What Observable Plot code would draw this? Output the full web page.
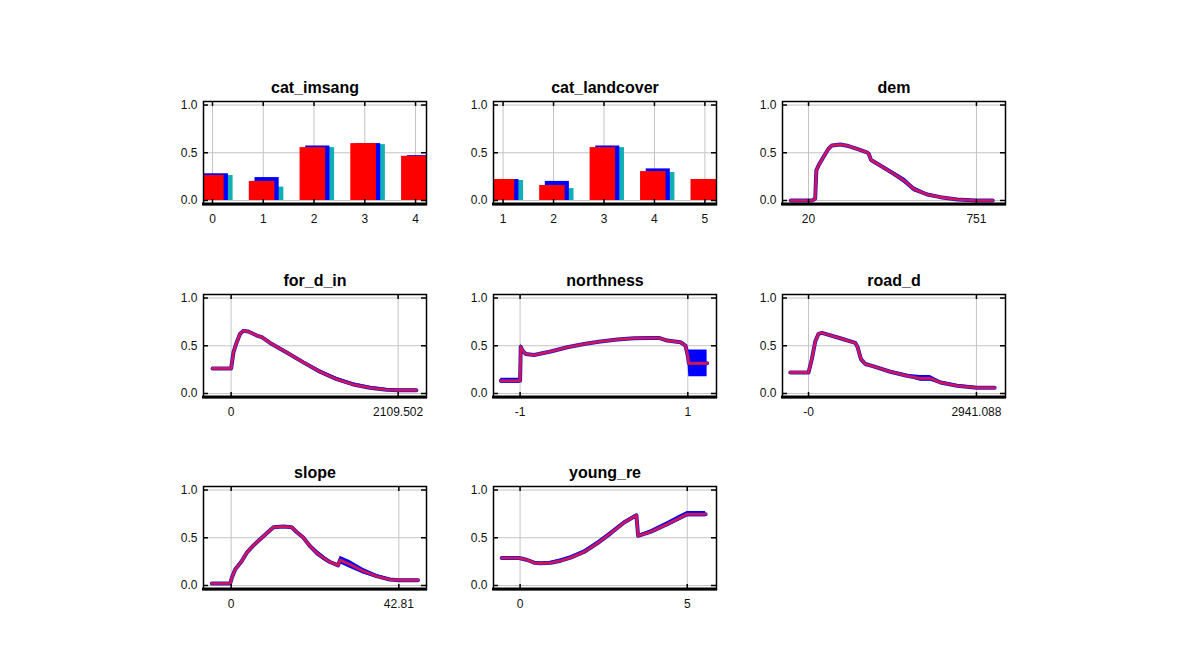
<!DOCTYPE html>
<html><head><meta charset="utf-8">
<script src="https://cdn.jsdelivr.net/npm/d3@7"></script>
<script src="https://cdn.jsdelivr.net/npm/@observablehq/plot@0.6"></script>
<style>
body{margin:0;background:#fff;}
#root{position:relative;width:1190px;height:652px;overflow:hidden;background:#fff;}
#root svg{position:absolute;background:transparent;}
</style></head><body><div id="root"></div>
<script>
// ---------- data ----------
const yTicks = [0, 0.5, 1];
const yTickLabels = ["0.0", "0.5", "1.0"];

// cat_imsang
const imsangCats = [0, 1, 2, 3, 4];
const imsangMean = [0.262, 0.20, 0.554, 0.596, 0.463];
const imsangPlus = [0.28, 0.24, 0.571, 0.596, 0.47];
const imsangMinus = [0.262, 0.14, 0.554, 0.585, 0.45];

// cat_landcover
const landCats = [1, 2, 3, 4, 5];
const landMean = [0.22, 0.157, 0.554, 0.303, 0.22];
const landPlus = [0.22, 0.20, 0.571, 0.331, 0.22];
const landMinus = [0.21, 0.125, 0.554, 0.293, 0.21];

// dem
const demX = [-57, 20, 35, 49, 54, 64, 85, 107, 122, 158, 194, 231, 274, 282, 292, 332, 391, 441, 478, 536, 594, 667, 751, 822];
const demY = [0, 0, 0, 0.018, 0.315, 0.368, 0.455, 0.542, 0.577, 0.587, 0.57, 0.54, 0.505, 0.49, 0.425, 0.366, 0.28, 0.2, 0.12, 0.063, 0.035, 0.01, 0, 0];
const demSd = [0.004, 0.004, 0.004, 0.01, 0.02, 0.02, 0.015, 0.01, 0.005, 0.005, 0.005, 0.005, 0.005, 0.01, 0.015, 0.015, 0.02, 0.03, 0.025, 0.015, 0.01, 0.005, 0.004, 0.004];
const demTicks = [20, 751];
const demLabels = ["20", "751"];

// for_d_in
const forX = [-235, 0, 29, 71, 113, 155, 218, 324, 387, 492, 702, 912, 1122, 1332, 1542, 1752, 1962, 2109, 2340];
const forY = [0.263, 0.263, 0.43, 0.537, 0.625, 0.656, 0.649, 0.607, 0.59, 0.53, 0.43, 0.326, 0.228, 0.15, 0.095, 0.06, 0.039, 0.035, 0.035];
const forSd = [0.004, 0.004, 0.02, 0.015, 0.01, 0.008, 0.008, 0.01, 0.01, 0.012, 0.015, 0.018, 0.02, 0.02, 0.018, 0.015, 0.012, 0.012, 0.012];
const forTicks = [0, 2109.502];
const forLabels = ["0", "2109.502"];

// northness
const northX = [-1.23, -1.0, -0.992, -0.972, -0.933, -0.833, -0.635, -0.437, -0.238, -0.04, 0.159, 0.357, 0.556, 0.655, 0.754, 0.913, 0.972, 1.0, 1.012, 1.23];
const northY = [0.133, 0.133, 0.49, 0.45, 0.414, 0.404, 0.44, 0.484, 0.519, 0.544, 0.565, 0.579, 0.582, 0.582, 0.554, 0.537, 0.502, 0.396, 0.316, 0.316];
const northSd = [0.026, 0.026, 0.03, 0.015, 0.01, 0.008, 0.008, 0.008, 0.008, 0.008, 0.008, 0.008, 0.008, 0.008, 0.008, 0.01, 0.015, 0.05, 0.14, 0.14];
const northTicks = [-1, 1];
const northLabels = ["-1", "1"];

// road_d
const roadX = [-320, 0, 58, 117, 175, 234, 555, 819, 860, 918, 994, 1140, 1432, 1725, 1959, 2134, 2310, 2602, 2941, 3260];
const roadY = [0.221, 0.221, 0.36, 0.544, 0.625, 0.635, 0.579, 0.53, 0.484, 0.36, 0.309, 0.284, 0.228, 0.186, 0.158, 0.158, 0.116, 0.081, 0.06, 0.06];
const roadSd = [0.004, 0.004, 0.02, 0.015, 0.008, 0.008, 0.008, 0.01, 0.04, 0.03, 0.015, 0.01, 0.012, 0.015, 0.03, 0.03, 0.015, 0.012, 0.012, 0.012];
const roadTicks = [0, 2941.088];
const roadLabels = ["-0", "2941.088"];

// slope
const slopeX = [-4.93, -0.25, 0.17, 1.02, 2.72, 4.0, 5.7, 7.39, 9.09, 10.8, 13.3, 15.46, 16.7, 18.4, 20.1, 21.8, 23.5, 25.2, 27.3, 27.8, 30.3, 33.7, 37.1, 40.5, 42.81, 47.7];
const slopeY = [0.021, 0.021, 0.08, 0.168, 0.256, 0.344, 0.42, 0.484, 0.547, 0.61, 0.618, 0.61, 0.561, 0.502, 0.414, 0.344, 0.291, 0.246, 0.21, 0.267, 0.221, 0.151, 0.098, 0.063, 0.056, 0.056];
const slopeSd = [0.006, 0.006, 0.01, 0.012, 0.012, 0.01, 0.008, 0.008, 0.008, 0.008, 0.008, 0.008, 0.01, 0.015, 0.02, 0.03, 0.025, 0.015, 0.012, 0.04, 0.04, 0.03, 0.02, 0.012, 0.01, 0.01];
const slopeTicks = [0, 42.81];
const slopeLabels = ["0", "42.81"];

// young_re
const youngX = [-0.55, -0.03, 0.22, 0.42, 0.62, 0.92, 1.22, 1.51, 1.91, 2.31, 2.71, 3.11, 3.48, 3.53, 3.9, 4.4, 4.8, 5.0, 5.55];
const youngY = [0.288, 0.288, 0.267, 0.239, 0.232, 0.239, 0.26, 0.291, 0.351, 0.442, 0.547, 0.66, 0.735, 0.52, 0.561, 0.642, 0.712, 0.747, 0.747];
const youngSd = [0.006, 0.006, 0.008, 0.01, 0.012, 0.015, 0.02, 0.02, 0.022, 0.022, 0.02, 0.015, 0.015, 0.015, 0.02, 0.025, 0.028, 0.028, 0.028];
const youngTicks = [0, 5];
const youngLabels = ["0", "5"];

// ---------- layout ----------
const W = 273, H = 163, ML = 40, MR = 10, MT = 30, MB = 30;
const FW = W - ML - MR, FH = H - MT - MB;
const colLeft = [163, 453, 742];
const rowTop = [71, 264, 456];
const yDomain = [-0.042, 1.037];
const FONT = "'Liberation Sans', Arial, sans-serif";

function frameMarks(xTicks) {
  return [
    Plot.ruleY(yTicks, {stroke: "#c4c4c4", strokeWidth: 1}),
    Plot.ruleX(xTicks, {stroke: "#c4c4c4", strokeWidth: 1})
  ];
}
function overlayMarks(xTicks, xLabels, title) {
  const xl = xTicks.map((t, i) => ({t, l: xLabels[i]}));
  const yl = yTicks.map((t, i) => ({t, l: yTickLabels[i]}));
  return [
    Plot.tickY(yTicks, {stroke: "black", strokeWidth: 1.5, insetRight: FW - 5}),
    Plot.tickY(yTicks, {stroke: "black", strokeWidth: 1.5, insetLeft: FW - 5}),
    Plot.tickX(xTicks, {stroke: "black", strokeWidth: 1.5, insetBottom: FH - 5}),
    Plot.tickX(xTicks, {stroke: "black", strokeWidth: 1.5, insetTop: FH - 5}),
    Plot.frame({stroke: "black", strokeWidth: 1.5}),
    (index, scales, values, dims) => {
      const y = dims.height - dims.marginBottom;
      return d3.create("svg:line")
        .attr("x1", dims.marginLeft - 1).attr("x2", dims.width - dims.marginRight + 1)
        .attr("y1", y).attr("y2", y)
        .attr("stroke", "black").attr("stroke-width", 3).node();
    },
    Plot.text(yl, {y: "t", text: "l", frameAnchor: "left", textAnchor: "end", lineAnchor: "middle", dx: -6, fontSize: 12, fill: "#111"}),
    Plot.text(xl, {x: "t", text: "l", frameAnchor: "bottom", lineAnchor: "middle", dy: 15, fontSize: 12, fill: "#111"}),
    Plot.text([title], {frameAnchor: "top", lineAnchor: "middle", dy: -14, fontSize: 16, fontWeight: "bold", fill: "black"})
  ];
}

function place(svg, col, row) {
  svg.style.left = colLeft[col] + "px";
  svg.style.top = rowTop[row] + "px";
  document.getElementById("root").appendChild(svg);
}

function plotBase(xDomain, marks) {
  return Plot.plot({
    width: W, height: H,
    marginLeft: ML, marginRight: MR, marginTop: MT, marginBottom: MB,
    x: {domain: xDomain, axis: null},
    y: {domain: yDomain, axis: null},
    style: {fontFamily: FONT, fontSize: "12px", background: "transparent", overflow: "visible"},
    marks
  });
}

function barPanel(title, cats, mean, plus, minus, xDomain, col, row) {
  const rows = cats.map((c, i) => ({c, m: mean[i], p: plus[i], n: minus[i]}));
  const labels = cats.map(String);
  const svg = plotBase(xDomain, [
    ...frameMarks(cats),
    Plot.rect(rows, {x1: d => d.c - 0.05, x2: d => d.c + 0.406, y1: 0, y2: "n", fill: "#12b0b4", clip: true}),
    Plot.rect(rows, {x1: d => d.c - 0.163, x2: d => d.c + 0.314, y1: 0, y2: "p", fill: "#0000ff", clip: true}),
    Plot.rect(rows, {x1: d => d.c - 0.275, x2: d => d.c + 0.23, y1: 0, y2: "m", fill: "#ff0000", clip: true}),
    ...overlayMarks(cats, labels, title)
  ]);
  place(svg, col, row);
}

function curvePanel(title, xs, ys, sds, xTicks, xLabels, xDomain, col, row) {
  const rows = xs.map((x, i) => ({x, y: ys[i], s: sds[i]}));
  const svg = plotBase(xDomain, [
    ...frameMarks(xTicks),
    Plot.areaY(rows, {x: "x", y1: d => d.y - d.s, y2: d => d.y + d.s, fill: "#0000ff", curve: "linear", clip: true}),
    Plot.line(rows, {x: "x", y: "y", stroke: "#2a14c8", strokeWidth: 4, clip: true}),
    Plot.line(rows, {x: "x", y: "y", stroke: "#d2145a", strokeWidth: 2.6, clip: true}),
    ...overlayMarks(xTicks, xLabels, title)
  ]);
  place(svg, col, row);
}

barPanel("cat_imsang", imsangCats, imsangMean, imsangPlus, imsangMinus, [-0.177, 4.216], 0, 0);
barPanel("cat_landcover", landCats, landMean, landPlus, landMinus, [0.81, 5.23], 1, 0);
curvePanel("dem", demX, demY, demSd, demTicks, demLabels, [-93.3, 877.4], 2, 0);
curvePanel("for_d_in", forX, forY, forSd, forTicks, forLabels, [-349, 2467.6], 0, 1);
curvePanel("northness", northX, northY, northSd, northTicks, northLabels, [-1.317, 1.342], 1, 1);
curvePanel("road_d", roadX, roadY, roadSd, roadTicks, roadLabels, [-456, 3450], 2, 1);
curvePanel("slope", slopeX, slopeY, slopeSd, slopeTicks, slopeLabels, [-7.06, 49.87], 0, 2);
curvePanel("young_re", youngX, youngY, youngSd, youngTicks, youngLabels, [-0.795, 5.875], 1, 2);
</script>
</body></html>
